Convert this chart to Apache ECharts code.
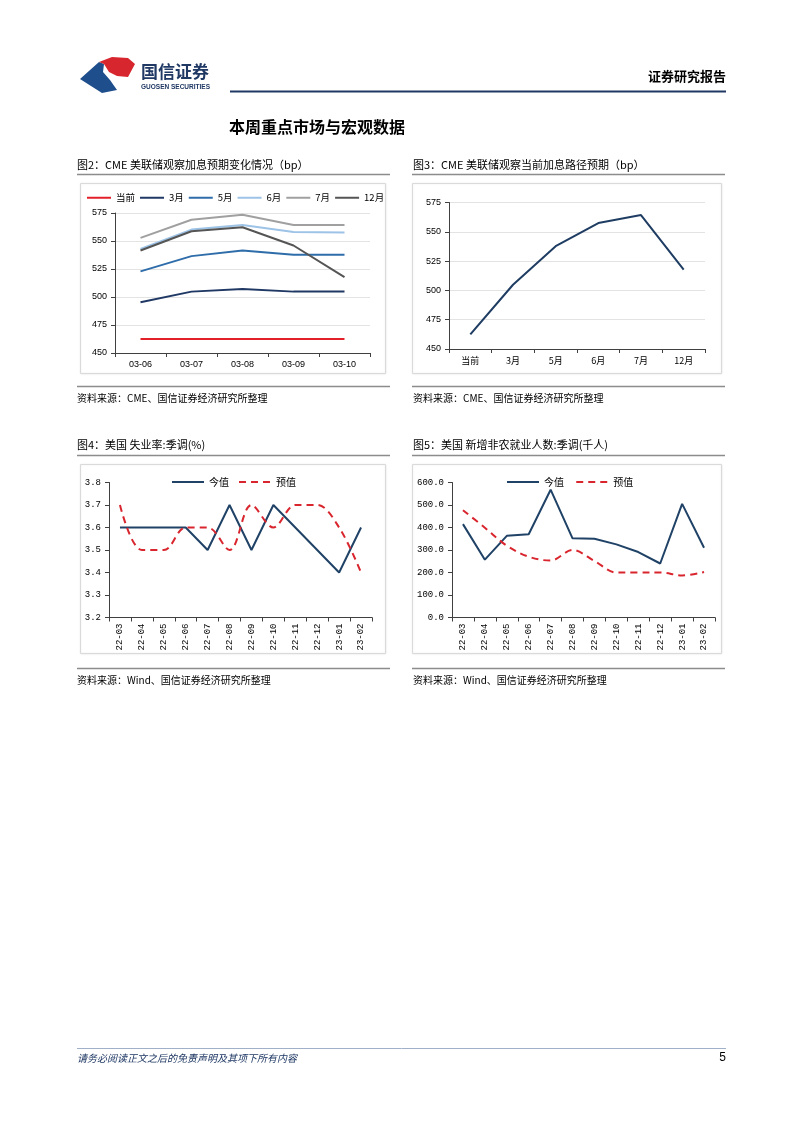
<!DOCTYPE html>
<html><head><meta charset="utf-8">
<script src="https://cdn.jsdelivr.net/npm/echarts@6/dist/echarts.min.js"></script>
<style>html,body{margin:0;padding:0;background:#fff}#c{width:802px;height:1133px}</style>
</head><body><div id="c"></div>
<script>
// ---- data ----
const c2Dates = ['03-06','03-07','03-08','03-09','03-10'];
const c2Now  = [462.5,462.5,462.5,462.5,462.5];
const c2Mar  = [495.3,504.8,507.2,504.8,504.8];
const c2May  = [522.9,536.5,541.5,537.7,537.7];
const c2Jun  = [543,560.2,564.3,558,557.5];
const c2Jul  = [552.8,569,573.5,564.3,564.3];
const c2Dec  = [541.5,558.7,562.3,546,517.8];

const c3Cats = ['当前','3月','5月','6月','7月','12月'];
const c3Vals = [462.5,504.8,537.7,557.5,564.3,517.8];

const months = ['22-03','22-04','22-05','22-06','22-07','22-08','22-09','22-10','22-11','22-12','23-01','23-02'];
const unempActual = [3.6,3.6,3.6,3.6,3.5,3.7,3.5,3.7,3.6,3.5,3.4,3.6];
const unempForecast = [3.7,3.5,3.5,3.6,3.6,3.5,3.7,3.6,3.7,3.7,3.6,3.4];
const nfpActual = [415,257,363,370,568,352,350,325,291,240,505,310];
const nfpForecast = [477,399,319,270,253,300,251,200,200,200,187,202];

const CJK = '"Noto Sans CJK SC"';
const RED = '#E3202A';

const chart = echarts.init(document.getElementById('c'), null, {renderer:'canvas'});

function txt(x, y, text, font, fill, align) {
  return {type:'text', x:x, y:y, style:{text:text, font:font, fill:fill||'#000', align:align||'left', verticalAlign:'middle'}};
}
function ln(x1,y1,x2,y2,stroke,w){
  return {type:'line', shape:{x1:x1,y1:y1,x2:x2,y2:y2}, style:{stroke:stroke, lineWidth:w||1}};
}
function box(x,y,w,h){
  return {type:'rect', z:-1, shape:{x:x,y:y,width:w,height:h}, style:{fill:'#fff', stroke:'#DADADA', lineWidth:1, shadowBlur:2, shadowColor:'rgba(0,0,0,0.08)'}};
}

const graphics = [
  // logo
  {type:'polygon', shape:{points:[[80,79],[99,62],[104,64],[103,72],[110,80],[117,90],[102,93]]}, style:{fill:'#1F4E8C'}},
  {type:'polygon', shape:{points:[[99,62],[112,57],[128,58],[135,64],[128,77],[117,76],[109,72],[104,64]]}, style:{fill:'#D7262E'}},
  txt(141, 72, '国信证券', 'bold 17px ' + CJK, '#1F3864'),
  txt(141, 87, 'GUOSEN SECURITIES', 'bold 6.5px "Liberation Sans"', '#1F3864'),
  txt(726, 76, '证券研究报告', 'bold 13px ' + CJK, '#000', 'right'),
  ln(230, 91.5, 726, 91.5, '#1F3864', 2),
  txt(229, 127, '本周重点市场与宏观数据', 'bold 16px ' + CJK, '#000'),

  // chart 2 frame
  txt(77, 165, '图2：CME 美联储观察加息预期变化情况（bp）', '11px ' + CJK, '#000'),
  ln(77, 174.5, 390, 174.5, '#8C8C8C', 1.5),
  box(80.5, 183.5, 305, 190),
  ln(77, 386.5, 390, 386.5, '#8C8C8C', 1.5),
  txt(77, 398, '资料来源：CME、国信证券经济研究所整理', '10px ' + CJK, '#000'),

  // chart 3 frame
  txt(413, 165, '图3：CME 美联储观察当前加息路径预期（bp）', '11px ' + CJK, '#000'),
  ln(412, 174.5, 725, 174.5, '#8C8C8C', 1.5),
  box(412.5, 183.5, 309, 190),
  ln(412, 386.5, 725, 386.5, '#8C8C8C', 1.5),
  txt(413, 398, '资料来源：CME、国信证券经济研究所整理', '10px ' + CJK, '#000'),

  // chart 4 frame
  txt(77, 445, '图4：美国 失业率:季调(%)', '11px ' + CJK, '#000'),
  ln(77, 455.5, 390, 455.5, '#8C8C8C', 1.5),
  box(80.5, 464.5, 305, 189),
  ln(77, 668.5, 390, 668.5, '#8C8C8C', 1.5),
  txt(77, 680, '资料来源：Wind、国信证券经济研究所整理', '10px ' + CJK, '#000'),

  // chart 5 frame
  txt(413, 445, '图5：美国 新增非农就业人数:季调(千人)', '11px ' + CJK, '#000'),
  ln(412, 455.5, 725, 455.5, '#8C8C8C', 1.5),
  box(412.5, 464.5, 309, 189),
  ln(412, 668.5, 725, 668.5, '#8C8C8C', 1.5),
  txt(413, 680, '资料来源：Wind、国信证券经济研究所整理', '10px ' + CJK, '#000'),

  // footer
  ln(77, 1048.5, 726, 1048.5, '#9FB0C8', 1),
  txt(77, 1058, '请务必阅读正文之后的免责声明及其项下所有内容', 'italic 10px ' + CJK, '#1F3864'),
  txt(726, 1058, '5', '12px "Liberation Sans"', '#000', 'right')
];

const axisLineDark = {show:true, lineStyle:{color:'#404040', width:1}};
const tickDark = {show:true, length:4, lineStyle:{color:'#404040'}};
const lab9 = {fontSize:9, color:'#000', fontFamily:'"Liberation Sans"'};
const mono9 = {fontSize:9, color:'#000', fontFamily:'"Liberation Mono"'};

const solidIcon24 = 'path://M0,0h24v2h-24z';
const solidIcon32 = 'path://M0,0h32v2h-32z';
const dashIcon32 = 'path://M0,0h7v2h-7z M12,0h7v2h-7z M24,0h7v2h-7z M32,0h0v2h0z';

function lineSeries(name, data, color, xi, yi, extra){
  return Object.assign({
    name:name, type:'line', data:data, xAxisIndex:xi, yAxisIndex:yi,
    symbol:'none', lineStyle:{color:color, width:2}, itemStyle:{color:color},
    animation:false, emphasis:{disabled:true}
  }, extra||{});
}

const option = {
  backgroundColor:'#fff',
  animation:false,
  graphic: graphics,
  legend: [
    {left:82, top:188, itemWidth:24, itemHeight:2, itemGap:5, textStyle:{fontSize:9.5, fontFamily:CJK, color:'#000'},
     data:['当前','3月','5月','6月','7月','12月'].map(function(n){return {name:n, icon:solidIcon24};})},
    {left:167, top:472, itemWidth:32, itemHeight:2, itemGap:10, textStyle:{fontSize:10, fontFamily:CJK, color:'#000'},
     data:[{name:'今值', icon:solidIcon32},{name:'预值', icon:dashIcon32}]},
    {left:502, top:472, itemWidth:32, itemHeight:2, itemGap:10, textStyle:{fontSize:10, fontFamily:CJK, color:'#000'},
     data:[{name:'今值 ', icon:solidIcon32},{name:'预值 ', icon:dashIcon32}]}
  ],
  grid: [
    {left:115, right:432, top:213, bottom:780, containLabel:false},
    {left:449, right:97, top:202.5, bottom:784, containLabel:false},
    {left:109, right:430, top:482.5, bottom:515.5, containLabel:false},
    {left:452, right:87, top:482.5, bottom:515.5, containLabel:false}
  ],
  xAxis: [
    {type:'category', gridIndex:0, data:c2Dates, boundaryGap:true, axisLine:axisLineDark, axisTick:tickDark, axisLabel:Object.assign({margin:7}, lab9), splitLine:{show:false}},
    {type:'category', gridIndex:1, data:c3Cats, boundaryGap:true, axisLine:axisLineDark, axisTick:tickDark, axisLabel:{margin:7, fontFamily:CJK, fontSize:9, color:'#000'}, splitLine:{show:false}},
    {type:'category', gridIndex:2, data:months, boundaryGap:true, axisLine:axisLineDark, axisTick:tickDark, axisLabel:Object.assign({rotate:90, margin:6, interval:0}, mono9), splitLine:{show:false}},
    {type:'category', gridIndex:3, data:months, boundaryGap:true, axisLine:axisLineDark, axisTick:tickDark, axisLabel:Object.assign({rotate:90, margin:6, interval:0}, mono9), splitLine:{show:false}}
  ],
  yAxis: [
    {type:'value', gridIndex:0, min:450, max:575, interval:25, axisLine:axisLineDark, axisTick:tickDark, axisLabel:Object.assign({margin:8}, lab9), splitLine:{show:true, lineStyle:{color:'#E3E3E3'}}},
    {type:'value', gridIndex:1, min:450, max:575, interval:25, axisLine:axisLineDark, axisTick:tickDark, axisLabel:Object.assign({margin:8}, lab9), splitLine:{show:true, lineStyle:{color:'#E3E3E3'}}},
    {type:'value', gridIndex:2, min:3.2, max:3.8, interval:0.1, axisLine:axisLineDark, axisTick:tickDark, axisLabel:Object.assign({margin:8, formatter:function(v){return v.toFixed(1);}}, mono9), splitLine:{show:false}},
    {type:'value', gridIndex:3, min:0, max:600, interval:100, axisLine:axisLineDark, axisTick:tickDark, axisLabel:Object.assign({margin:8, formatter:function(v){return v.toFixed(1);}}, mono9), splitLine:{show:false}}
  ],
  series: [
    lineSeries('当前', c2Now, RED, 0, 0),
    lineSeries('3月', c2Mar, '#1F3864', 0, 0),
    lineSeries('5月', c2May, '#2E6DAA', 0, 0),
    lineSeries('6月', c2Jun, '#9DC3E6', 0, 0),
    lineSeries('7月', c2Jul, '#A0A0A0', 0, 0),
    lineSeries('12月', c2Dec, '#555555', 0, 0),
    lineSeries('路径', c3Vals, '#1F3D63', 1, 1),
    lineSeries('今值', unempActual, '#1F4266', 2, 2),
    lineSeries('预值', unempForecast, '#D9262E', 2, 2, {smooth:0.35, lineStyle:{color:'#D9262E', width:2, type:[7,5]}}),
    lineSeries('今值 ', nfpActual, '#1F4266', 3, 3),
    lineSeries('预值 ', nfpForecast, '#D9262E', 3, 3, {smooth:0.35, lineStyle:{color:'#D9262E', width:2, type:[7,5]}})
  ]
};
chart.setOption(option);
</script>
</body></html>
